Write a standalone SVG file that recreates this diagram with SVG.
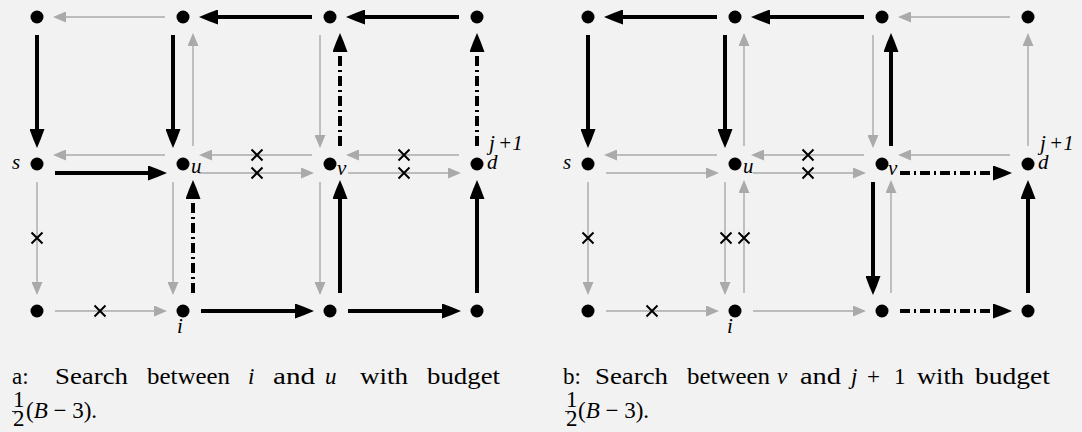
<svg xmlns="http://www.w3.org/2000/svg" xmlns:xlink="http://www.w3.org/1999/xlink" width="1082" height="432" viewBox="0 0 1082 432">
<style>
.n{fill:#000}
.g{stroke:#aaaaaa;stroke-width:1.4;fill:none;marker-end:url(#hg)}
.b{stroke:#000;stroke-width:4;fill:none;marker-end:url(#hb)}
.d{stroke:#000;stroke-width:4;fill:none;stroke-dasharray:10 4 2 4;marker-end:url(#hb)}
text{font-family:'Liberation Serif','DejaVu Serif',serif}
.m{font-style:italic;font-size:21px;fill:#000}
.c{font-size:23px;fill:#000}
.ci{font-style:italic;font-size:23px;fill:#000}
.xm{stroke:#000;stroke-width:2;fill:none}
</style>
<defs>
<marker id="hb" markerUnits="userSpaceOnUse" markerWidth="19" markerHeight="15" refX="0" refY="7.5" orient="auto" viewBox="0 0 19 15"><path d="M0,0 Q10,3.5 19,7.5 Q10,11.5 0,15 z" fill="#000"/></marker>
<marker id="hg" markerUnits="userSpaceOnUse" markerWidth="13" markerHeight="11" refX="0" refY="5.5" orient="auto" viewBox="0 0 13 11"><path d="M0,0 L13,5.5 L0,11 z" fill="#aaaaaa"/></marker>
<path id="x" class="xm" d="M-5.5,-5.5 L5.5,5.5 M-5.5,5.5 L5.5,-5.5"/>
</defs>
<rect width="1082" height="432" fill="#f2f2f2"/>

<g id="connectors">
<line class="g" x1="165" y1="17" x2="66" y2="17"/>
<line class="b" x1="312" y1="17" x2="218" y2="17"/>
<line class="b" x1="459" y1="17" x2="365" y2="17"/>
<line class="b" x1="37" y1="35" x2="37" y2="129"/>
<line class="b" x1="173" y1="35" x2="173" y2="129"/>
<line class="g" x1="193" y1="146" x2="193" y2="46"/>
<line class="g" x1="320" y1="35" x2="320" y2="135"/>
<line class="d" x1="340" y1="146" x2="340" y2="52"/>
<line class="d" x1="477" y1="146" x2="477" y2="52"/>
<line class="g" x1="165" y1="155" x2="66" y2="155"/>
<line class="b" x1="55" y1="173" x2="148" y2="173"/>
<line class="g" x1="312" y1="155" x2="212" y2="155"/>
<line class="g" x1="199" y1="173" x2="301" y2="173"/>
<line class="g" x1="459" y1="155" x2="359" y2="155"/>
<line class="g" x1="348" y1="173" x2="448" y2="173"/>
<line class="g" x1="37" y1="182" x2="37" y2="282"/>
<line class="g" x1="173" y1="182" x2="173" y2="282"/>
<line class="d" x1="193" y1="293" x2="193" y2="199"/>
<line class="g" x1="320" y1="182" x2="320" y2="282"/>
<line class="b" x1="340" y1="293" x2="340" y2="199"/>
<line class="b" x1="477" y1="293" x2="477" y2="199"/>
<line class="g" x1="55" y1="311" x2="154" y2="311"/>
<line class="b" x1="201" y1="311" x2="295" y2="311"/>
<line class="b" x1="348" y1="311" x2="442" y2="311"/>
<line class="b" x1="717" y1="17" x2="623" y2="17"/>
<line class="b" x1="864" y1="17" x2="770" y2="17"/>
<line class="g" x1="1010" y1="17" x2="911" y2="17"/>
<line class="b" x1="588" y1="35" x2="588" y2="129"/>
<line class="b" x1="725" y1="35" x2="725" y2="129"/>
<line class="g" x1="744" y1="146" x2="744" y2="46"/>
<line class="g" x1="873" y1="35" x2="873" y2="135"/>
<line class="b" x1="891" y1="146" x2="891" y2="52"/>
<line class="g" x1="1028" y1="146" x2="1028" y2="46"/>
<line class="g" x1="717" y1="155" x2="617" y2="155"/>
<line class="g" x1="606" y1="173" x2="706" y2="173"/>
<line class="g" x1="864" y1="155" x2="764" y2="155"/>
<line class="g" x1="753" y1="173" x2="853" y2="173"/>
<line class="g" x1="1010" y1="155" x2="911" y2="155"/>
<line class="d" x1="900" y1="173" x2="993" y2="173"/>
<line class="g" x1="588" y1="182" x2="588" y2="282"/>
<line class="g" x1="725" y1="182" x2="725" y2="282"/>
<line class="g" x1="744" y1="293" x2="744" y2="193"/>
<line class="b" x1="873" y1="182" x2="873" y2="276"/>
<line class="g" x1="891" y1="293" x2="891" y2="193"/>
<line class="b" x1="1028" y1="293" x2="1028" y2="199"/>
<line class="g" x1="606" y1="311" x2="706" y2="311"/>
<line class="g" x1="753" y1="311" x2="853" y2="311"/>
<line class="d" x1="900" y1="311" x2="993" y2="311"/>
<use xlink:href="#x" x="257" y="155"/>
<use xlink:href="#x" x="257" y="173"/>
<use xlink:href="#x" x="404" y="155"/>
<use xlink:href="#x" x="404" y="173"/>
<use xlink:href="#x" x="37" y="238"/>
<use xlink:href="#x" x="100" y="311"/>
<use xlink:href="#x" x="808" y="155"/>
<use xlink:href="#x" x="808" y="173"/>
<use xlink:href="#x" x="588" y="238"/>
<use xlink:href="#x" x="726" y="238"/>
<use xlink:href="#x" x="744" y="238"/>
<use xlink:href="#x" x="652" y="311"/>
</g>

<g id="a-r0c0"><circle class="n" cx="37" cy="17" r="6.5"/></g>
<g id="a-r0c1"><circle class="n" cx="183" cy="17" r="6.5"/></g>
<g id="a-r0c2"><circle class="n" cx="330" cy="17" r="6.5"/></g>
<g id="a-r0c3"><circle class="n" cx="477" cy="17" r="6.5"/></g>
<g id="a-s"><circle class="n" cx="37" cy="164" r="6.5"/><text class="m" x="12" y="169">s</text></g>
<g id="a-u"><circle class="n" cx="183" cy="164" r="6.5"/><text class="m" x="191" y="173">u</text></g>
<g id="a-v"><circle class="n" cx="330" cy="164" r="6.5"/><text class="m" x="337" y="175">v</text></g>
<g id="a-d"><circle class="n" cx="477" cy="164" r="6.5"/><text class="m" x="487" y="169">d</text><text class="m" x="489" y="150">j</text><text class="m" x="498" y="150" font-style="normal" font-size="15">+1</text></g>
<g id="a-r2c0"><circle class="n" cx="37" cy="311" r="6.5"/></g>
<g id="a-i"><circle class="n" cx="183" cy="311" r="6.5"/><text class="m" x="177" y="333">i</text></g>
<g id="a-r2c2"><circle class="n" cx="330" cy="311" r="6.5"/></g>
<g id="a-r2c3"><circle class="n" cx="477" cy="311" r="6.5"/></g>

<g id="b-r0c0"><circle class="n" cx="588" cy="17" r="6.5"/></g>
<g id="b-r0c1"><circle class="n" cx="735" cy="17" r="6.5"/></g>
<g id="b-r0c2"><circle class="n" cx="882" cy="17" r="6.5"/></g>
<g id="b-r0c3"><circle class="n" cx="1028" cy="17" r="6.5"/></g>
<g id="b-s"><circle class="n" cx="588" cy="164" r="6.5"/><text class="m" x="563" y="169">s</text></g>
<g id="b-u"><circle class="n" cx="735" cy="164" r="6.5"/><text class="m" x="743" y="173">u</text></g>
<g id="b-v"><circle class="n" cx="882" cy="164" r="6.5"/><text class="m" x="888" y="175">v</text></g>
<g id="b-d"><circle class="n" cx="1028" cy="164" r="6.5"/><text class="m" x="1038" y="169">d</text><text class="m" x="1040" y="150">j</text><text class="m" x="1049" y="150" font-style="normal" font-size="15">+1</text></g>
<g id="b-r2c0"><circle class="n" cx="588" cy="311" r="6.5"/></g>
<g id="b-i"><circle class="n" cx="735" cy="311" r="6.5"/><text class="m" x="727" y="333">i</text></g>
<g id="b-r2c2"><circle class="n" cx="882" cy="311" r="6.5"/></g>
<g id="b-r2c3"><circle class="n" cx="1028" cy="311" r="6.5"/></g>

<g id="caption-a">
<text class="c" x="12" y="384">a:</text>
<text class="c" x="55" y="384" textLength="73" lengthAdjust="spacingAndGlyphs">Search</text>
<text class="c" x="147" y="384" textLength="83" lengthAdjust="spacingAndGlyphs">between</text>
<text class="ci" x="248" y="384">i</text>
<text class="c" x="273" y="384" textLength="42" lengthAdjust="spacingAndGlyphs">and</text>
<text class="ci" x="325" y="384">u</text>
<text class="c" x="360" y="384" textLength="48" lengthAdjust="spacingAndGlyphs">with</text>
<text class="c" x="427" y="384" textLength="73" lengthAdjust="spacingAndGlyphs">budget</text>
<text class="c" x="13" y="407" font-size="12">1</text>
<line x1="12" y1="411.5" x2="21" y2="411.5" stroke="#000" stroke-width="0.8"/>
<text class="c" x="13" y="426" font-size="12">2</text>
<text class="c" x="26" y="418">(<tspan class="ci">B</tspan> − 3).</text>
</g>

<g id="caption-b">
<text class="c" x="563" y="384">b:</text>
<text class="c" x="595" y="384" textLength="73" lengthAdjust="spacingAndGlyphs">Search</text>
<text class="c" x="687" y="384" textLength="83" lengthAdjust="spacingAndGlyphs">between</text>
<text class="ci" x="777" y="384">v</text>
<text class="c" x="800" y="384" textLength="41" lengthAdjust="spacingAndGlyphs">and</text>
<text class="ci" x="851" y="384">j</text>
<text class="c" x="867" y="384">+</text>
<text class="c" x="894" y="384">1</text>
<text class="c" x="917" y="384" textLength="47" lengthAdjust="spacingAndGlyphs">with</text>
<text class="c" x="975" y="384" textLength="75" lengthAdjust="spacingAndGlyphs">budget</text>
<text class="c" x="566" y="407" font-size="12">1</text>
<line x1="565" y1="411.5" x2="574" y2="411.5" stroke="#000" stroke-width="0.8"/>
<text class="c" x="566" y="426" font-size="12">2</text>
<text class="c" x="578" y="418">(<tspan class="ci">B</tspan> − 3).</text>
</g>
</svg>
